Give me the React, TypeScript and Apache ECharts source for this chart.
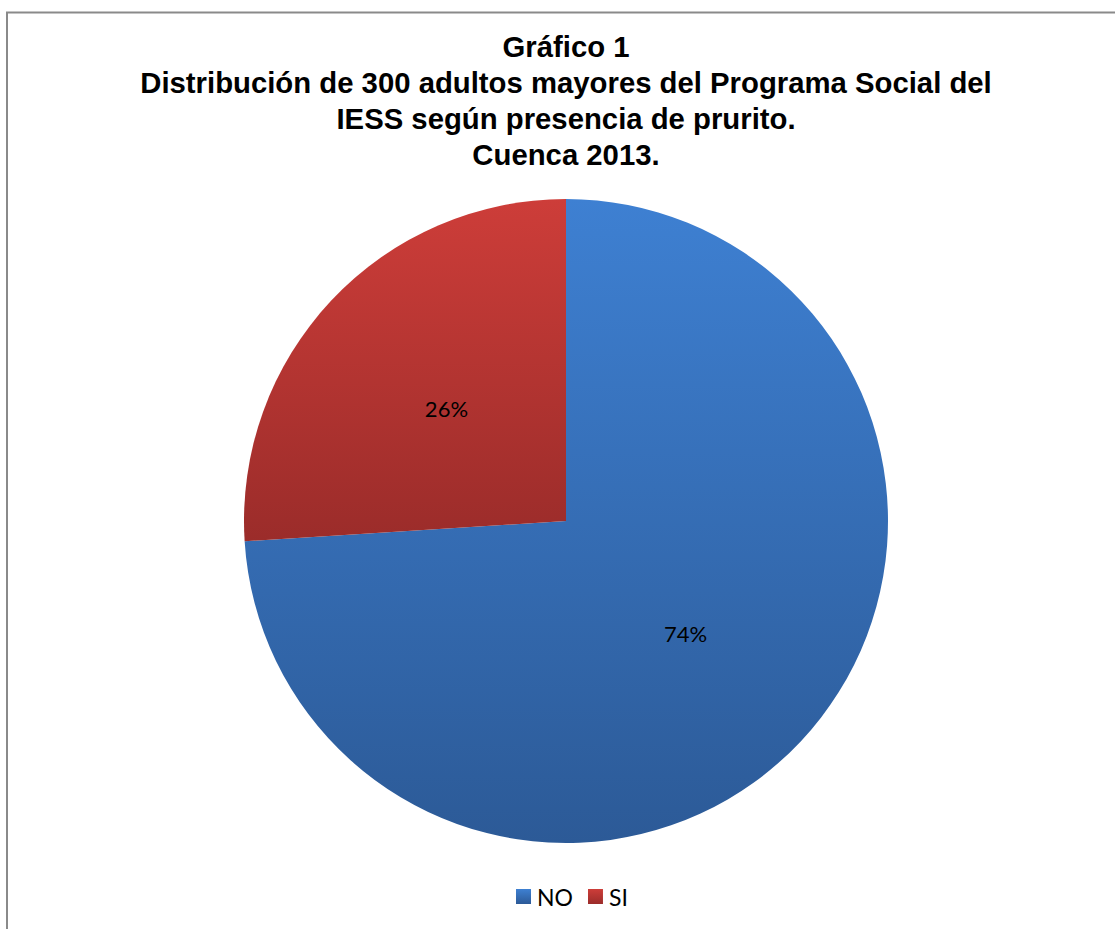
import React, { useEffect, useRef } from "react";
import * as echarts from "echarts";

const titleLines = [
  "Gráfico 1",
  "Distribución de 300 adultos mayores del Programa Social del",
  "IESS según presencia de prurito.",
  "Cuenca 2013.",
];
const categories = ["NO", "SI"];
const values = [222, 78];
const topColors = ["#3e80d2", "#cd3d39"];
const bottomColors = ["#2c5a97", "#9b2c2a"];

export default function App() {
  const ref = useRef<HTMLDivElement>(null);
  useEffect(() => {
    if (!ref.current) return;
    const chart = echarts.init(ref.current, null, { renderer: "svg" });
    const grad = (i: number) =>
      new echarts.graphic.LinearGradient(0, 0, 0, 1, [
        { offset: 0, color: topColors[i] },
        { offset: 1, color: bottomColors[i] },
      ]);
    chart.setOption({
      animation: false,
      backgroundColor: "#ffffff",
      legend: {
        bottom: 16,
        left: 511,
        itemWidth: 15,
        itemHeight: 15,
        itemGap: 15,
        icon: "rect",
        textStyle: {
          fontFamily: "Lato, 'Open Sans', sans-serif",
          fontSize: 23,
          color: "#000000",
          padding: [0, 0, 0, 1],
        },
        data: categories,
      },
      graphic: [
        {
          type: "polyline",
          shape: { points: [[7, 940], [7, 12.5], [1120, 12.5]] },
          style: { stroke: "#8a8a8a", lineWidth: 2, fill: "none" },
          silent: true,
        },
        {
          type: "text",
          x: 566,
          y: 28,
          silent: true,
          style: {
            text: titleLines.join("\n"),
            textAlign: "center",
            textVerticalAlign: "top",
            font: "bold 29.3px 'Liberation Sans', Arial, sans-serif",
            lineHeight: 36,
            fill: "#000000",
          },
        },
      ],
      series: [
        {
          type: "pie",
          center: [566, 521],
          radius: 322,
          startAngle: 90,
          clockwise: true,
          label: {
            show: true,
            position: "inside",
            formatter: (p: any) => Math.round(p.percent) + "%",
            fontFamily: "Lato, 'Open Sans', sans-serif",
            fontSize: 22,
            color: "#000000",
          },
          labelLine: { show: false },
          itemStyle: { borderWidth: 0 },
          emphasis: { disabled: true },
          data: categories.map((c, i) => ({
            name: c,
            value: values[i],
            itemStyle: { color: grad(i) },
          })),
        },
      ],
    });
    return () => chart.dispose();
  }, []);
  return (
    <div
      ref={ref}
      style={{ position: "absolute", left: 0, top: 0, width: 1115, height: 929 }}
    />
  );
}
